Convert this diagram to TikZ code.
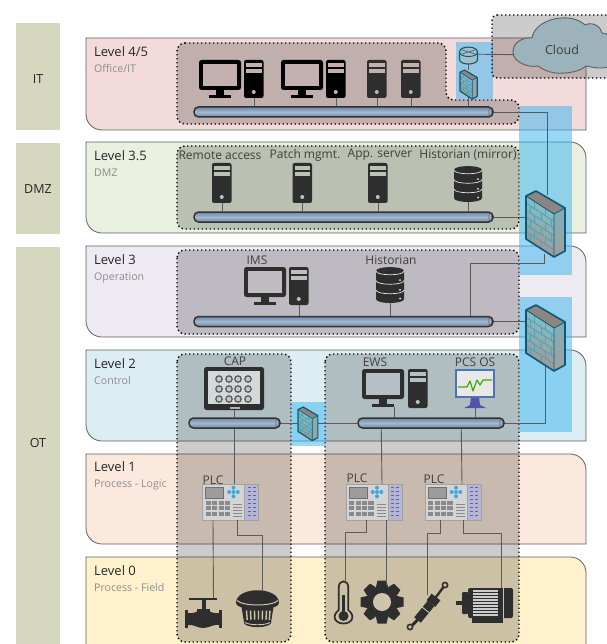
\documentclass[tikz,border=0pt]{standalone}
\usepackage{fontspec}
\setmainfont{Open Sans}
\usetikzlibrary{calc}
\definecolor{bandA}{HTML}{F2DBDA}
\definecolor{bandB}{HTML}{E9F0DF}
\definecolor{bandC}{HTML}{EDEAF2}
\definecolor{bandD}{HTML}{DCEEF3}
\definecolor{bandE}{HTML}{FCE9DD}
\definecolor{bandF}{HTML}{FFF2CD}
\definecolor{zoneC}{HTML}{D5D7BE}
\definecolor{edgeC}{HTML}{5E5E5E}
\definecolor{wireC}{HTML}{5A5A5A}
\definecolor{darkI}{HTML}{2E2E2E}
\definecolor{fwEdge}{HTML}{0F5873}
\definecolor{fwBrown}{HTML}{A4928E}
\definecolor{fwMid}{HTML}{A09A98}
\definecolor{fwTeal}{HTML}{7EC4D0}
\definecolor{fwBrick}{HTML}{4BA6BA}
\definecolor{fwTop}{HTML}{8E8583}
\definecolor{hiBlue}{HTML}{3DB5F0}
\definecolor{barMid}{HTML}{A4B8CE}
\definecolor{barDark}{HTML}{6A87A9}
\definecolor{cloudF}{HTML}{9DB3BB}
\definecolor{txtC}{HTML}{3F3F3F}
\definecolor{subC}{HTML}{8C8C8C}
\definecolor{bgA}{HTML}{C3B0AF}
\definecolor{bgB}{HTML}{BEC2B4}
\definecolor{bgC}{HTML}{BFBCC2}
\definecolor{bgD}{HTML}{B4C0C3}
\definecolor{bgF}{HTML}{CEC5AC}
\definecolor{plcB}{HTML}{D4D4D4}
\definecolor{plcE}{HTML}{A2A2A2}
\definecolor{plcK}{HTML}{8A8A8A}
\definecolor{plcP}{HTML}{B7B6D2}
\definecolor{plcBlue}{HTML}{3FA9D6}
\tikzset{
  zonebox/.style={fill=zoneC,draw=white,line width=.5pt},
  grp/.style={fill=black,fill opacity=.2,draw=black,draw opacity=1,dash pattern=on 1.4pt off 2.6pt,line width=1.4pt,rounded corners=8pt},
  hilite/.style={fill=hiBlue,fill opacity=.52,draw=none},
  wire/.style={draw=wireC,line width=.9pt},
  bandline/.style={draw=edgeC,line width=.8pt},
  lvl/.style={anchor=base west,inner sep=0pt,font=\fontsize{13}{15}\selectfont,text=black!85},
  sublvl/.style={anchor=base west,inner sep=0pt,font=\fontsize{10.6}{12}\selectfont,text=subC},
  zonelbl/.style={font=\fontsize{12.5}{14}\selectfont,text=black!85},
  iconlbl/.style={font=\fontsize{12}{14}\selectfont,text=txtC,inner sep=0pt},
  busbar/.style={rounded corners=4.5pt,draw=black!80,line width=1.5pt,top color=barDark,bottom color=barDark,middle color=barMid,minimum height=10pt,inner sep=0pt},
  box/.style={inner sep=0pt,anchor=north west},
}
\newcommand{\bandR}[3]{% top bottom color: rounded top right and bottom left
  \draw[bandline,fill=#3] (86,#1) -- (570,#1) .. controls (579,#1) and (586,\the\numexpr#1+7\relax) .. (586,\the\numexpr#1+16\relax) -- (586,#2) -- (102,#2) .. controls (93,#2) and (86,\the\numexpr#2-7\relax) .. (86,\the\numexpr#2-16\relax) -- cycle;}
\newcommand{\busbarN}[4]{% name, left, right, centre y
  \pgfmathsetmacro{\bw}{#3-#2}\pgfmathsetmacro{\bc}{(#3+#2)/2}
  \node[busbar,minimum width=\bw pt] (#1) at (\bc,#4) {};
  \draw[black!70,line width=.5pt,fill=barMid] (#3-3,#4-4.4) .. controls (#3-1.2,#4-2) and (#3-1.2,#4+2) .. (#3-3,#4+4.4) .. controls (#3-4.6,#4+2) and (#3-4.6,#4-2) .. (#3-3,#4-4.4);}
\newcommand{\towerI}[6]{% name x y h fill bg
  \begin{scope}[shift={(#2,#3)}]
  \node[box,minimum width=19.5pt,minimum height=#4pt] (#1) at (0,0) {};
  \fill[#5,rounded corners=2pt] (0,0) rectangle (19.5,#4);
  \fill[#6] (2,3.2) rectangle (17.5,6.6);
  \fill[#6] (2,9.2) rectangle (17.5,13.2);
  \fill[#6] (9.75,#4-6) circle (2pt);
  \end{scope}}
\newcommand{\monitorI}[5]{% name x y fill bg
  \begin{scope}[shift={(#2,#3)}]
  \node[box,minimum width=42pt,minimum height=38pt] (#1) at (0,0) {};
  \fill[#4,rounded corners=2.5pt] (0,0) rectangle (42,30);
  \fill[#5] (4,4) rectangle (38,26);
  \fill[#4] (17,30) rectangle (25,35);
  \fill[#4] (10,34.6) rectangle (32,38);
  \end{scope}}
\newcommand{\dbI}[3]{% name x y
  \begin{scope}[shift={(#2,#3)}]
  \node[box,minimum width=28pt,minimum height=36pt] (#1) at (0,0) {};
  \fill[darkI] (0,4) .. controls (0,-1.2) and (28,-1.2) .. (28,4) -- (28,32) .. controls (28,37.3) and (0,37.3) .. (0,32) -- cycle;
  \draw[white!80!gray,line width=.7pt] (0,4) .. controls (0,9) and (28,9) .. (28,4);
  \draw[white!80!gray,line width=.7pt] (0,13.5) .. controls (0,18.5) and (28,18.5) .. (28,13.5);
  \draw[white!80!gray,line width=.7pt] (0,23) .. controls (0,28) and (28,28) .. (28,23);
  \fill[white!85!gray] (24,13.2) circle (1pt) (24,22.8) circle (1pt) (24,31.5) circle (1pt);
  \end{scope}}
\newcommand{\fwI}[5]{% name x y scale linewidth
  \begin{scope}[shift={(#2,#3)},scale=#4]
  \node[box,minimum width=#4*39pt,minimum height=#4*66pt] (#1) at (0,0) {};
  \shade[bottom color=fwBrown,middle color=fwMid,top color=fwTeal,shading angle=-35]
    (0,5) -- (28,23) -- (28,66) -- (0,48) -- cycle;
  \shade[top color=fwTeal!70!gray,bottom color=gray!75] (28,23) -- (39,17) -- (39,60) -- (28,66) -- cycle;
  \fill[fwTop] (0,5) -- (10,0) -- (39,17) -- (28,23) -- cycle;
  \foreach \v in {.17,.33,.5,.67,.83}
    \draw[fwBrick,line width=#5*.6pt] ({0},{5+43*\v}) -- ({28},{23+43*\v});
  \foreach \u/\v in {.3/0,.7/0,.15/.17,.55/.17,.9/.17,.3/.33,.7/.33,.15/.5,.55/.5,.9/.5,.3/.67,.7/.67,.15/.83,.55/.83}
    \draw[fwBrick,line width=#5*.6pt] ({28*\u},{5+18*\u+43*\v}) -- ({28*\u},{5+18*\u+43*(\v+.167)});
  \draw[fwEdge,line width=#5pt,line join=round] (0,5) -- (10,0) -- (39,17) -- (39,60) -- (28,66) -- (0,48) -- cycle;
  \draw[fwEdge,line width=#5*.5pt] (0,5) -- (28,23) -- (39,17) (28,23) -- (28,66);
  \end{scope}}
\newcommand{\plcI}[3]{% name x y
  \begin{scope}[shift={(#2,#3)}]
  \node[box,minimum width=56pt,minimum height=36pt] (#1) at (0,0) {};
  \fill[plcB] (0,0) rectangle (42,36);
  \fill[plcP] (42,0) rectangle (56,36);
  \draw[plcE,line width=.8pt] (0,0) rectangle (56,36) (42,0) -- (42,36);
  \fill[plcK!85,draw=plcE!70!black,line width=.4pt] (3,3) rectangle (21,14);
  \foreach \cx/\cy in {31/3.7,31/12.3,26.7/8,35.3/8,31/8}
    \fill[plcBlue] (\cx,\cy) circle (2pt);
  \foreach \i in {0,1,2,3} \foreach \j in {0,1,2}
    \fill[plcK] ({3.2+6.4*\i},{17+5.3*\j}) rectangle ({8.4+6.4*\i},{21+5.3*\j});
  \foreach \j in {0,1,2,3,4}
    \draw[plcK,line width=.7pt] (30.5,{20+3*\j}) -- (39.5,{20+3*\j});
  \foreach \j in {0,...,7} {
    \draw[plcK!70!blue,line width=.5pt] (45,{3.5+4*\j}) -- (48,{3.5+4*\j}) (50,{3.5+4*\j}) -- (53,{3.5+4*\j});}
  \end{scope}}
\begin{document}
\begin{tikzpicture}[x=1pt,y=-1pt]
\useasboundingbox (0,0) rectangle (606,644);
\fill[white] (0,0) rectangle (606,644);
% zones
\node[zonebox,minimum width=45pt,minimum height=108pt,inner sep=0pt] (zoneIT) at (37.5,76) {};
\node[zonebox,minimum width=45pt,minimum height=92pt,inner sep=0pt] (zoneDMZ) at (37.5,188) {};
\node[zonebox,minimum width=45pt,minimum height=400pt,inner sep=0pt] (zoneOT) at (37.5,446) {};
\node[zonelbl] (tIT) at (38,79) {IT};
\node[zonelbl] (tDMZ) at (38,189) {DMZ};
\node[zonelbl] (tOT) at (38,443) {OT};
% bands
\draw[bandline,fill=bandA] (86,38) -- (586,38) -- (586,130) -- (102,130) .. controls (93,130) and (86,123) .. (86,114) -- cycle;
\bandR{142}{233}{bandB}
\bandR{246}{337}{bandC}
\bandR{350}{441}{bandD}
\bandR{454}{544}{bandE}
\bandR{557}{660}{bandF}
% level labels
\node[lvl] (l45) at (94,56.7) {Level 4/5};
\node[sublvl] (s45) at (94,72.7) {Office/IT};
\node[lvl] (l35) at (94,160.7) {Level 3.5};
\node[sublvl] (s35) at (94,176.7) {DMZ};
\node[lvl] (l3) at (94,264.7) {Level 3};
\node[sublvl] (s3) at (94,280.7) {Operation};
\node[lvl] (l2) at (94,368.7) {Level 2};
\node[sublvl] (s2) at (94,384.7) {Control};
\node[lvl] (l1) at (94,471.7) {Level 1};
\node[sublvl] (s1) at (94,487.7) {Process - Logic};
\node[lvl] (l0) at (94,575.7) {Level 0};
\node[sublvl] (s0) at (94,591.7) {Process - Field};
% groups
\path[grp] (177,43) -- (446,43) -- (446,100) -- (519,100) -- (519,124) -- (177,124) -- cycle;
\path[grp] (177,146) rectangle (519,229);
\path[grp] (177,250) rectangle (519,334);
\path[grp] (177,354) rectangle (291,642);
\path[grp] (325,354) rectangle (519,642);
% blue highlights
\fill[hilite] (456,42) rectangle (493,100);
\fill[hilite] (519,106) rectangle (572,275);
\fill[hilite] (519,297) rectangle (572,432);
\fill[hilite] (291,402) rectangle (325,446);
% cloud group
\path[grp,rounded corners=5pt] (492,15) -- (620,15) -- (620,78) -- (492,78) -- cycle;
% icons
\towerI{tA}{244}{60}{38}{black}{bgA}
\monitorI{mA}{199}{60}{black}{bgA}
\monitorI{mB}{281}{60}{black}{bgA}
\towerI{tB}{326}{60}{38}{black}{bgA}
\towerI{tC}{367}{60}{38}{darkI}{bgA}
\towerI{tD}{401}{60}{38}{darkI}{bgA}
\towerI{tE}{212}{163}{40}{darkI}{bgB}
\towerI{tF}{292.5}{163}{40}{darkI}{bgB}
\towerI{tG}{368}{163}{40}{darkI}{bgB}
\dbI{dbA}{454}{166}
\monitorI{mC}{244}{267}{darkI}{bgC}
\towerI{tH}{289}{267}{38}{darkI}{bgC}
\dbI{dbB}{376}{267}
\monitorI{mD}{362}{369}{darkI}{bgD}
\towerI{tI}{408}{369}{39}{darkI}{bgD}
% HMI
\node[box,minimum width=60pt,minimum height=43pt] (hmi) at (204,367) {};
\fill[darkI,rounded corners=2.5pt] (204,367) rectangle (264,410);
\fill[bgD!60!white] (208,371) rectangle (260,404);
\fill[gray!60] (230,406.5) rectangle (240,408.5);
\foreach \hy in {379,389,399} \foreach \hx in {219,229,238,248}
  \draw[darkI!80,line width=1.2pt,fill=gray!45] (\hx,\hy) circle (3.2pt);
% PCS OS
\node[box,minimum width=40pt,minimum height=39pt] (pcs) at (455,369) {};
\fill[blue!35!gray] (471,397) -- (479,397) -- (480,405) -- (486,408) -- (464,408) -- (470,405) -- cycle;
\draw[cyan!45!blue!70!gray,line width=1.6pt,fill=gray!18] (455.8,369.8) rectangle (494.2,397.2);
\draw[green!55!black!75!yellow,line width=1.2pt,line join=round] (458,387) -- (467,387) -- (470,381) -- (473,391) -- (477,380) -- (480,385) -- (483,380) -- (492,380);
% buses
\busbarN{busA}{194}{493}{112}
\busbarN{busB}{194}{493}{217}
\busbarN{busC}{194}{493}{321.5}
\busbarN{busD}{189}{280}{423}
\busbarN{busE}{358}{504}{423}
% connectors
\draw[wire] (tA.south) -- (tA.south |- busA.north);
\draw[wire] (tB.south) -- (tB.south |- busA.north);
\draw[wire] (tC.south) -- (tC.south |- busA.north);
\draw[wire] (tD.south) -- (tD.south |- busA.north);
\draw[wire] (tE.south) -- (tE.south |- busB.north);
\draw[wire] (tF.south) -- (tF.south |- busB.north);
\draw[wire] (tG.south) -- (tG.south |- busB.north);
\draw[wire] (dbA.south) -- (dbA.south |- busB.north);
\draw[wire] (tH.south) -- (tH.south |- busC.north);
\draw[wire] (dbB.south) -- (dbB.south |- busC.north);
\draw[wire] (hmi.south) -- (hmi.south |- busD.north);
\draw[wire] ($(mD.south east)+(-10,0)$) -- ($(mD.south east)+(-10,10.5)$);
\draw[wire] (pcs.south) -- (pcs.south |- busE.north);
% firewalls, router
\node[box,minimum width=19pt,minimum height=17pt] (router) at (459,47) {};
\node[box,minimum width=17pt,minimum height=26pt] (fwDanchor) at (460,70) {};
\draw[wire] (fwDanchor.south) -- (fwDanchor.south |- busA.north);
\draw[wire] (router.south) -- (fwDanchor.north);
\draw[wire] (busA.east) -| ($(fwDanchor.north west)+(87,125)$);
\draw[wire] (busB.east) -- +(34,0);
\draw[wire] (busC.east) -- +(34,0);
\draw[wire] ($(busC.north west)+(277,0)$) |- ++(74,-52) -- ++(0,-10);
\draw[wire] (busE.east) -| ++(41,-60);
\draw[wire] (busD.east) -- ++(20,0);
\draw[wire] (busE.west) -- ++(-42,0);
\fwI{fwA}{526}{191}{1}{1.6}
\fwI{fwB}{526}{305}{1}{1.6}
\fwI{fwC}{298}{407}{.51}{1.2}
\fwI{fwD}{460}{70}{.44}{1.2}
\draw[fwEdge,line width=1.1pt,fill=cyan!30!gray!65] (459.5,52) .. controls (459.5,45.5) and (477.5,45.5) .. (477.5,52) -- (477.5,59.5) .. controls (477.5,65.5) and (459.5,65.5) .. (459.5,59.5) -- cycle;
\draw[fwEdge,line width=.9pt] (459.5,52) .. controls (459.5,58) and (477.5,58) .. (477.5,52);
\draw[fwEdge!60!gray,line width=.7pt] (462,50) -- (475,54) (475,50) -- (462,54);
% cloud
\node[inner sep=0pt,minimum width=95pt,minimum height=55pt,anchor=north west] (cloud) at (513,18) {};
\draw[wire] ($(router.east)+(0,-1.5)$) -- ($(cloud.west)+(0,9)$) ;
\draw[edgeC,line width=.9pt,fill=cloudF]
  (532,38) .. controls (533,27) and (548,18) .. (562,18) .. controls (572,17) and (581,21) .. (585,25)
  .. controls (593,21) and (601,27) .. (602,33) .. controls (606,33) and (612,36) .. (612,42)
  -- (612,66) .. controls (600,70) and (592,67) .. (586,66) .. controls (580,72) and (565,74) .. (555,73)
  .. controls (548,72) and (542,69) .. (538,66) .. controls (528,68) and (513,62) .. (513,52)
  .. controls (513,42) and (523,37) .. (532,38) -- cycle;
\node[font=\fontsize{12.5}{14}\selectfont,text=txtC] (tCloud) at (562,49.5) {Cloud};
% PLCs
\plcI{plcA}{202.5}{484}
\plcI{plcB}{346}{484}
\plcI{plcC}{425}{484}
% field icons
\node[box,minimum width=38pt,minimum height=30pt] (valve) at (184,598) {};
\fill[darkI] (189,597.5) rectangle (217,600);
\fill[darkI] (201.5,600) rectangle (205.5,610);
\fill[darkI] (197,609) rectangle (210,613);
\fill[darkI] (187,613) .. controls (193,614) and (195,612) .. (199,611) -- (208,611) .. controls (212,612) and (214,614) .. (220,613) -- (220,625) .. controls (212,624) and (210,628) .. (203,628) .. controls (197,628) and (194,624) .. (187,625) -- cycle;
\fill[darkI] (184.5,610) rectangle (188,628);
\fill[darkI] (218.5,610) rectangle (222,628);
% detector
\node[box,minimum width=43pt,minimum height=36pt] (smoke) at (236,591) {};
\fill[darkI] (241,604) -- (274,604) -- (271,622) -- (244,622) -- cycle;
\foreach \sx in {246.5,250.5,254.5,258.5,262.5,266.5,270}
  \draw[bgF,line width=1.4pt] (\sx,610.5) -- ({\sx+(\sx-258)*-.06},620);
\fill[darkI] (236,603) .. controls (236,586) and (279,586) .. (279,603) .. controls (279,606) and (273,609) .. (257.5,609) .. controls (242,609) and (236,606) .. (236,603) -- cycle;
\draw[bgF,line width=1pt] (237,600.5) .. controls (243,606.5) and (272,606.5) .. (278,600.5);
\fill[darkI] (244,621) .. controls (246,619) and (269,619) .. (271,621) -- (271,623) .. controls (269,628.5) and (246,628.5) .. (244,623) -- cycle;
\draw[bgF,line width=.9pt] (245,622.5) .. controls (250,625.5) and (265,625.5) .. (270,622.5);
% thermometer
\node[box,minimum width=19pt,minimum height=43pt] (thermo) at (334,581) {};
\draw[darkI,line width=1.7pt] (338.8,610) -- (338.8,587) .. controls (338.8,579.5) and (348.2,579.5) .. (348.2,587) -- (348.2,610) .. controls (356,616) and (352,623.5) .. (343.5,623.5) .. controls (335,623.5) and (331,616) .. (338.8,610);
\fill[darkI] (343.5,616) circle (5pt);
\fill[darkI] (342.2,595) rectangle (344.8,612);
% gear
\node[inner sep=0pt,minimum size=44pt,circle] (gear) at (382,602) {};
\fill[darkI] (382,602) circle (16pt);
\foreach \a in {0,45,...,315}
  \fill[darkI,rotate around={\a:(382,602)}] (376,587) -- (377.5,580.5) -- (386.5,580.5) -- (388,587) -- cycle;
\fill[bgF] (382,602) circle (9pt);
% actuator
\node[box,minimum width=35pt,minimum height=43pt] (act) at (410,584) {};
\draw[darkI,line width=1.6pt] (445,585) circle (2.6pt);
\draw[darkI,line width=2.4pt] (443.3,587.3) -- (433,601);
\draw[darkI,line width=11pt] (436,597) -- (431,603.5);
\draw[darkI,line width=8.5pt] (431,603.5) -- (417.5,620);
\draw[darkI,line width=3pt] (417.5,620) -- (412.5,625);
\draw[darkI,line width=1.6pt] (410,627) circle (2.6pt);
\draw[bgF,line width=.9pt] (422,607) -- (429,612.5);
% motor
\node[box,minimum width=57pt,minimum height=35pt] (motor) at (456,588) {};
\fill[darkI] (456,601) rectangle (462,605);
\fill[darkI,rounded corners=1pt] (462,592) rectangle (468,614);
\fill[darkI,rounded corners=2pt] (468,588) rectangle (513,618);
\fill[bgF] (503,588) rectangle (503.8,618);
\foreach \my in {591,594,...,615}
  \draw[gray!40,line width=1.2pt] (473,\my) -- (498,\my);
\fill[darkI] (472,618) rectangle (503,623);
% labels on icons
\node[iconlbl] (tRA) at (220,155) {Remote access};
\node[iconlbl] (tPM) at (305,155) {Patch mgmt.};
\node[iconlbl] (tAS) at (380,155) {App. server};
\node[iconlbl] (tHM) at (468,155.5) {Historian (mirror)};
\node[iconlbl] (tIMS) at (257,260) {IMS};
\node[iconlbl] (tHI) at (391,260) {Historian};
\node[iconlbl] (tCAP) at (235,361) {CAP};
\node[iconlbl] (tEWS) at (375,362) {EWS};
\node[iconlbl] (tPCS) at (475,362) {PCS OS};
\node[iconlbl] (tPa) at (213,480) {PLC};
\node[iconlbl] (tPb) at (357,478) {PLC};
\node[iconlbl] (tPc) at (434,479) {PLC};
% field connectors
\draw[wire] (busD.south) -- (busD.south |- plcA.north);
\draw[wire] ($(busE.south west)+(24,0)$) -- ($(plcB.north west)+(36,0)$);
\draw[wire] ($(busE.south west)+(104,0)$) -- ($(plcC.north west)+(37,0)$);
\draw[wire] ($(plcA.south west)+(10.5,0)$) -- ($(valve.north west)+(29.5,0)$);
\draw[wire] ($(plcA.south west)+(34.5,0)$) |- ($(plcA.south west)+(59.5,15)$) -- ($(smoke.north west)+(26,0)$);
\draw[wire] ($(plcB.south west)+(20,0)$) |- ($(plcB.south west)+(-1,12)$) -- ($(thermo.north west)+(11,0)$);
\draw[wire] ($(plcB.south west)+(40,0)$) -- ($(gear.center)+(4,-17)$);
\draw[wire] ($(plcC.south west)+(15,0)$) |- ($(plcC.south west)+(2,13)$) -- ($(act.north west)+(17,11)$);
\draw[wire] ($(plcC.south west)+(38,0)$) |- ($(plcC.south west)+(76,13)$) -- ($(motor.north west)+(45,0)$);
\end{tikzpicture}
\end{document}
